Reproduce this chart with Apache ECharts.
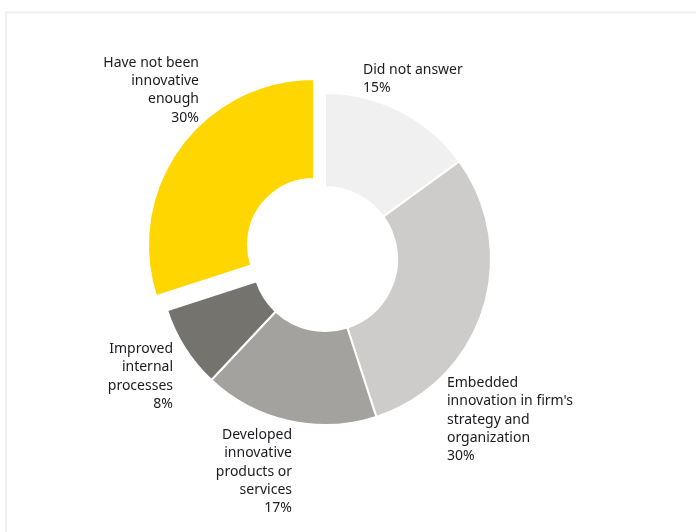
<!DOCTYPE html>
<html>
<head>
<meta charset="utf-8">
<script src="https://cdn.jsdelivr.net/npm/echarts@6/dist/echarts.min.js"></script>
<style>
  html, body { margin: 0; padding: 0; background: #ffffff; }
  #chart { width: 696px; height: 532px; }
</style>
</head>
<body>
<div id="chart"></div>
<script>
// Survey answers, in clockwise order from 12 o'clock
const categories = [
  'Did not answer',
  "Embedded\ninnovation in firm's\nstrategy and\norganization",
  'Developed\ninnovative\nproducts or\nservices',
  'Improved\ninternal\nprocesses',
  'Have not been\ninnovative\nenough'
];
const shares = [15, 30, 17, 8, 30];
const sliceColors = ['#f0f0f0', '#cdccca', '#a3a29e', '#74736e', '#ffd600'];
// the slice pulled out of the ring
const highlighted = 4;

// ring geometry and how far the pulled-out slice is shifted (px)
const ringCenter = [325, 259];
const ringRadius = [72, 166];
const pulledRadius = [66, 166];
const pullShift = [-11, -14];

// label anchor points and text alignment for each slice
const labelSpots = [
  { x: 363, y: 61, align: 'left' },
  { x: 447, y: 374, align: 'left' },
  { x: 292, y: 426, align: 'right' },
  { x: 173, y: 340, align: 'right' },
  { x: 199, y: 53.5, align: 'right' }
];

const hidden = { color: 'rgba(0,0,0,0)', borderWidth: 0 };

const chart = echarts.init(document.getElementById('chart'), null, { renderer: 'canvas' });

chart.setOption({
  animation: false,
  backgroundColor: '#ffffff',
  graphic: [{
    type: 'rect',
    silent: true,
    shape: { x: 6, y: 12.5, width: 720, height: 560 },
    style: { fill: 'none', stroke: '#efefef', lineWidth: 2 }
  }],
  series: [
    {
      // the ring itself, with all labels
      type: 'pie',
      center: ringCenter,
      radius: ringRadius,
      startAngle: 90,
      clockwise: true,
      silent: true,
      emphasis: { disabled: true },
      itemStyle: { borderColor: '#ffffff', borderWidth: 2 },
      label: {
        show: true,
        position: 'outside',
        formatter: p => p.name + '\n' + p.value + '%',
        fontFamily: 'Noto Sans',
        fontSize: 14,
        lineHeight: 18.3,
        color: '#1a1a1f'
      },
      labelLine: { show: false },
      labelLayout: p => ({
        x: labelSpots[p.dataIndex].x,
        y: labelSpots[p.dataIndex].y,
        align: labelSpots[p.dataIndex].align,
        verticalAlign: 'top'
      }),
      data: categories.map((name, i) => ({
        name: name,
        value: shares[i],
        itemStyle: i === highlighted ? hidden : { color: sliceColors[i] }
      }))
    },
    {
      // the pulled-out slice, drawn on a shifted centre
      type: 'pie',
      center: [ringCenter[0] + pullShift[0], ringCenter[1] + pullShift[1]],
      radius: pulledRadius,
      startAngle: 90,
      clockwise: true,
      silent: true,
      emphasis: { disabled: true },
      label: { show: false },
      labelLine: { show: false },
      data: categories.map((name, i) => ({
        name: name,
        value: shares[i],
        itemStyle: i === highlighted
          ? { color: sliceColors[i], borderColor: '#ffffff', borderWidth: 2 }
          : hidden
      }))
    }
  ]
});
</script>
</body>
</html>
